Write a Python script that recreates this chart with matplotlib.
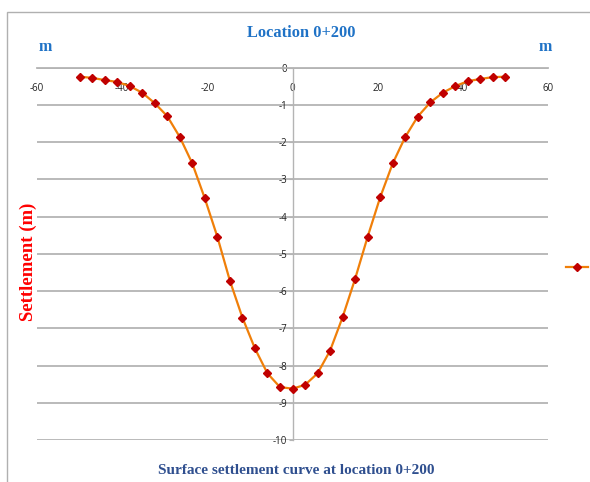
import numpy as np
import matplotlib
matplotlib.use('Agg')
import matplotlib.pyplot as plt
from matplotlib.patches import Rectangle
from matplotlib.lines import Line2D

plt.rcParams['axes.unicode_minus'] = False

# distance from tunnel centre line (m), 35 stations from -50 to 50
distance = np.linspace(-50, 50, 35)
# surface settlement
settlement = [
    -0.24, -0.27, -0.33, -0.38, -0.49, -0.67, -0.95, -1.30, -1.86,
    -2.57, -3.51, -4.54, -5.72, -6.71, -7.54, -8.21, -8.58, -8.62,
    -8.52, -8.21, -7.60, -6.70, -5.67, -4.54, -3.48, -2.57, -1.86,
    -1.31, -0.93, -0.67, -0.49, -0.36, -0.30, -0.25, -0.24,
]
x_ticks = [-60, -40, -20, 0, 20, 40, 60]
y_ticks = list(range(0, -11, -1))

W, H = 590, 482
fig = plt.figure(figsize=(W / 100, H / 100), dpi=100)
ax = fig.add_axes([37 / W, 1 - 440 / H, (548 - 37) / W, (440 - 67.8) / H])

grid_col = '#b4b4b4'
line_col = '#f07f09'
mark_col = '#c00000'
ax.plot(distance, settlement, color=line_col, lw=1.6,
        marker='D', ms=3.8, mfc=mark_col, mec=mark_col, zorder=3)

ax.set_xlim(-60, 60)
ax.set_ylim(-10, 0)
ax.set_xticks(x_ticks)
ax.set_yticks(y_ticks)
ax.yaxis.grid(True, color=grid_col, lw=1.3)
ax.set_axisbelow(True)

for s in ['top', 'right']:
    ax.spines[s].set_visible(False)
ax.spines['bottom'].set_position(('data', 0))
ax.spines['bottom'].set_color(grid_col)
ax.spines['bottom'].set_linewidth(1.3)
ax.spines['left'].set_position(('data', 0))
ax.spines['left'].set_color(grid_col)
ax.spines['left'].set_linewidth(1.0)

ax.tick_params(axis='x', length=0, pad=11)
ax.tick_params(axis='y', length=3, width=0.8, color=grid_col, pad=1)
for lab in ax.get_xticklabels() + ax.get_yticklabels():
    lab.set_fontfamily('Open Sans')
    lab.set_fontsize(7)
    lab.set_color('#222222')

# chart area border (only left and top edges fall inside the picture)
fig.patches.append(Rectangle((7 / W, -0.1), 1.2, 1 - 12 / H + 0.1,
                             transform=fig.transFigure, fill=False,
                             edgecolor='#b0b0b0', lw=1.0))

serif = 'Liberation Serif'
fig.text(301 / W, 1 - 33 / H, 'Location 0+200', ha='center', va='center',
         family=serif, weight='bold', size=11.8, color='#1f72c6')
fig.text(45 / W, 1 - 47 / H, 'm', ha='center', va='center',
         family=serif, weight='bold', size=11.5, color='#1f72c6')
fig.text(545 / W, 1 - 47 / H, 'm', ha='center', va='center',
         family=serif, weight='bold', size=11.5, color='#1f72c6')
fig.text(28 / W, 1 - 262 / H, 'Settlement (m)', ha='center', va='center',
         rotation=90, family=serif, weight='bold', size=13.5, color='#ff0000')
fig.text(296 / W, 1 - 470 / H, 'Surface settlement curve at location 0+200',
         ha='center', va='center', family=serif, weight='bold', size=11,
         color='#2f4f8f')

# legend key, its label falls outside the picture in the reference
key = Line2D([], [], color=line_col, lw=1.6, marker='D', ms=3.8,
             mfc=mark_col, mec=mark_col)
fig.legend([key], [' '], loc='center left',
           bbox_to_anchor=(566 / W, 1 - 268 / H),
           frameon=False, borderpad=0, borderaxespad=0, handlelength=2.0,
           handletextpad=0.3, prop={'family': 'Open Sans', 'size': 8})

fig.savefig('out.png', dpi=100)
